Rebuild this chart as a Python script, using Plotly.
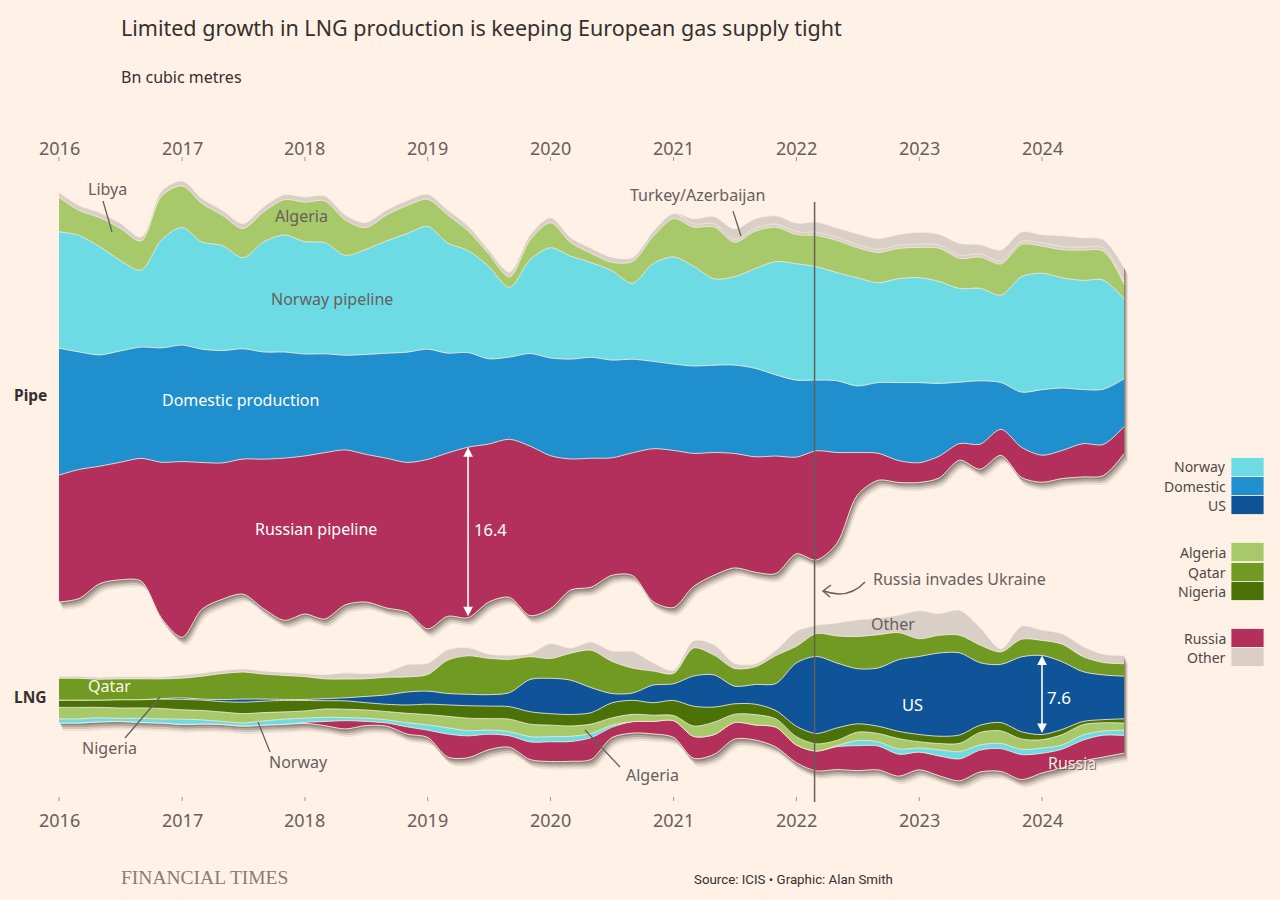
import numpy as np
import pandas as pd
import plotly.graph_objects as go

# ---------------- data (bn cubic metres, every two months) ----------------
dates = pd.date_range("2016-01-01", periods=53, freq="2MS")

pipe_russia = [12.2, 12.4, 11.3, 11.3, 11.8, 15.0, 16.9, 14.1, 13.1, 13.0, 14.4, 15.6, 15.2, 16.0,
               14.9, 14.2, 14.4, 14.4, 16.3, 15.7, 16.4, 15.2, 15.2, 16.3, 14.7, 12.6, 12.4, 11.3,
               11.8, 14.7, 15.1, 12.8, 11.8, 11.0, 11.1, 11.3, 9.3, 10.5, 8.75, 4.1, 2.6, 2.1,
               1.9, 2.1, 1.6, 2.4, 2.5, 2.9, 2.6, 2.7, 3.2, 3.0, 2.6]
pipe_domestic = [12.2, 11.3, 10.7, 10.7, 10.7, 11.0, 11.2, 10.9, 10.8, 10.6, 10.3, 10.2, 9.8, 9.5,
                 9.1, 9.6, 10.1, 10.6, 10.6, 9.6, 9.1, 8.2, 7.9, 8.9, 9.4, 9.6, 9.7, 9.4,
                 9.0, 8.4, 8.3, 8.4, 8.4, 8.5, 8.5, 7.8, 7.4, 6.8, 6.9, 6.4, 6.8, 7.5,
                 7.7, 7.0, 5.9, 6.1, 4.5, 5.3, 6.3, 6.0, 5.2, 5.3, 4.6]
pipe_norway = [11.2, 11.2, 10.4, 8.7, 7.4, 10.4, 11.3, 10.3, 10.1, 8.75, 10.6, 11.25, 10.8, 10.7,
               9.6, 10.1, 10.8, 11.4, 11.8, 10.6, 9.8, 8.9, 6.7, 9.0, 10.6, 9.9, 9.1, 8.6,
               7.3, 9.4, 10.3, 9.6, 8.3, 8.5, 9.6, 10.9, 11.2, 10.9, 10.4, 10.4, 9.6, 10.0,
               10.1, 9.8, 9.0, 8.9, 8.4, 11.1, 11.2, 10.6, 10.5, 10.5, 7.7]
pipe_algeria = [3.3, 2.4, 2.8, 3.1, 2.8, 4.2, 4.0, 3.7, 2.9, 2.8, 2.9, 3.4, 3.8, 4.0,
                3.4, 2.1, 2.5, 2.7, 2.6, 2.7, 1.9, 1.2, 1.0, 1.9, 2.4, 1.3, 0.9, 0.8,
                2.1, 2.6, 3.7, 3.75, 5.0, 3.3, 3.6, 3.3, 2.8, 3.0, 3.1, 2.9, 2.9, 2.9,
                2.9, 3.2, 2.9, 3.0, 3.0, 3.1, 2.6, 2.7, 2.9, 2.8, 1.4]
pipe_libya = [0.5, 0.5, 0.5, 0.5, 0.4, 0.5, 0.5, 0.5, 0.5, 0.5, 0.5, 0.5, 0.5, 0.5,
              0.5, 0.5, 0.5, 0.5, 0.5, 0.5, 0.5, 0.4, 0.5, 0.5, 0.5, 0.5, 0.5, 0.5,
              0.4, 0.5, 0.5, 0.3, 0.3, 0.3, 0.3, 0.3, 0.3, 0.3, 0.3, 0.3, 0.3, 0.3,
              0.3, 0.3, 0.3, 0.3, 0.3, 0.3, 0.3, 0.3, 0.3, 0.3, 0.3]
pipe_turkey_az = [0, 0, 0, 0, 0, 0, 0, 0, 0, 0, 0, 0, 0, 0,
                  0, 0, 0, 0, 0, 0, 0, 0, 0, 0, 0, 0, 0, 0,
                  0, 0, 0, 0.5, 0.7, 1.0, 0.9, 0.8, 0.8, 1.0, 0.9, 1.05, 1.05, 1.05,
                  1.15, 1.05, 1.15, 0.9, 1.05, 0.9, 0.8, 1.05, 0.9, 0.8, 1.3]

lng_russia = [0, 0, 0, 0, 0, 0, 0, 0, 0, 0, 0, 0, 0.1, 0.4,
              0.8, 0.4, 0.3, 0.7, 0.7, 2.2, 2.1, 1.5, 1.1, 1.7, 1.9, 1.9, 2.1, 1.0,
              1.1, 1.2, 1.6, 2.1, 1.9, 1.6, 1.45, 1.9, 1.7, 1.9, 2.2, 2.4, 2.3, 2.1,
              1.7, 1.9, 2.1, 2.1, 2.2, 2.4, 1.9, 1.8, 2.0, 2.1, 1.7]
lng_norway = [0.4, 0.4, 0.4, 0.3, 0.4, 0.4, 0.5, 0.4, 0.3, 0.3, 0.4, 0.5, 0.4, 0.4,
              0.3, 0.3, 0.3, 0.4, 0.5, 0.6, 0.5, 0.4, 0.4, 0.5, 0.5, 0.5, 0.4, 0.2,
              0, 0, 0, 0, 0, 0, 0, 0, 0, 0, 0.1, 0.5, 0.4, 0.5,
              0.4, 0.6, 0.7, 0.5, 0.5, 0.5, 0.5, 0.4, 0.5, 0.4, 0.5]
lng_algeria = [1.1, 1.1, 1.0, 1.0, 1.0, 1.0, 0.9, 0.9, 0.9, 0.9, 0.8, 0.7, 0.7, 0.8,
               0.8, 0.8, 0.8, 0.9, 1.0, 1.1, 1.2, 1.1, 1.2, 1.2, 1.1, 1.0, 0.9, 0.7,
               0.7, 0.6, 0.5, 1.0, 1.2, 0.8, 1.0, 0.8, 0.8, 0.7, 0.5, 0.8, 0.8, 1.0,
               0.6, 0.6, 0.8, 1.2, 1.2, 1.0, 0.8, 1.0, 1.0, 0.8, 0.7]
lng_nigeria = [0.7, 0.7, 0.7, 0.8, 0.8, 0.9, 1.0, 1.0, 1.0, 1.1, 1.1, 1.1, 1.0, 0.8,
               0.8, 0.7, 0.7, 0.8, 1.0, 1.1, 1.2, 1.2, 1.2, 1.2, 1.1, 1.1, 1.1, 1.45,
               1.35, 1.2, 1.45, 1.9, 1.45, 1.0, 1.0, 0.8, 1.0, 1.0, 1.2, 0.8, 0.7, 0.7,
               0.7, 0.7, 0.8, 0.7, 0.8, 0.7, 0.5, 0.5, 0.3, 0.3, 0.4]
lng_us = [0, 0, 0, 0, 0, 0.05, 0.15, 0.1, 0.2, 0.3, 0.2, 0.1, 0.1, 0.2,
          0.3, 0.6, 0.9, 1.25, 1.25, 1.1, 1.1, 1.1, 1.35, 3.1, 3.4, 3.3, 2.4, 0.9,
          0.7, 1.7, 1.6, 2.9, 3.1, 1.7, 1.9, 2.6, 6.1, 7.4, 6.25, 5.3, 5.6, 6.9,
          7.5, 8.0, 7.9, 6.0, 5.6, 7.2, 7.6, 6.5, 4.8, 4.3, 4.1]
lng_qatar = [2.1, 2.1, 2.0, 2.0, 2.0, 1.9, 1.9, 2.2, 2.5, 2.6, 2.4, 2.3, 2.2, 1.9,
             1.8, 1.7, 1.7, 1.45, 1.6, 3.2, 3.7, 3.5, 3.2, 2.2, 1.9, 2.6, 3.6, 3.1,
             2.4, 1.35, 1.0, 2.7, 1.9, 1.7, 1.7, 2.7, 1.6, 2.2, 2.6, 3.1, 3.2, 2.6,
             1.7, 1.7, 1.7, 1.7, 1.2, 1.7, 1.45, 1.7, 1.45, 1.2, 1.2]
lng_other = [0.2, 0.2, 0.2, 0.2, 0.2, 0.2, 0.3, 0.3, 0.3, 0.3, 0.3, 0.3, 0.3, 0.4,
             0.6, 0.5, 0.5, 1.2, 1.1, 1.0, 0.8, 0.4, 0.4, 0.3, 1.45, 0.5, 0.8, 1.0,
             1.6, 0.8, 0.3, 0.7, 1.0, 0.5, 0.3, 0.5, 1.45, 0.8, 1.25, 1.6, 1.6, 1.7,
             2.7, 2.1, 2.4, 1.7, 0.3, 1.25, 1.0, 1.0, 1.0, 0.8, 0.8]

year_labels = ["2016", "2017", "2018", "2019", "2020", "2021", "2022", "2023", "2024"]
legend_groups = [["Norway", "Domestic", "US"], ["Algeria", "Qatar", "Nigeria"], ["Russia", "Other"]]

# ---------------- styling ----------------
BG = "#FFF1E5"
C = {
    "Norway": "#6DDBE4", "Domestic": "#208FCE", "US": "#0F5499",
    "Algeria": "#A8C96A", "Qatar": "#709A22", "Nigeria": "#4A7207",
    "Russia": "#B2305B", "Other": "#DACFC6",
}
EDGE = "rgba(250,238,226,0.9)"
GRAY = "#66605C"
DARK = "#33302E"
FONT = "Noto Sans"
W, H = 1280, 900
PX_PER_BCM = 10.4
X0_PX, DAY_PX = 59, 983 / 2922.0  # 2016-01-01 at px 59; 2024-01-01 at px 1042


def px(x):
    return x / W


def py(y):
    return 1 - y / H


def px_to_date(xp):
    return pd.Timestamp("2016-01-01") + pd.Timedelta(days=(xp - X0_PX) / DAY_PX)


def wiggle(layers):
    """d3.stackOffsetWiggle baseline for layers given bottom -> top."""
    arr = [np.asarray(l, float) for l in layers]
    n, m = len(arr), len(arr[0])
    base = np.zeros(m)
    y = 0.0
    for j in range(1, m):
        s1 = s2 = 0.0
        for i in range(n):
            s3 = (arr[i][j] - arr[i][j - 1]) / 2
            for k in range(i):
                s3 += arr[k][j] - arr[k][j - 1]
            s1 += arr[i][j]
            s2 += s3 * arr[i][j]
        if s1:
            y -= s2 / s1
        base[j] = y
    return base


pipe_layers = [(pipe_russia, C["Russia"]), (pipe_domestic, C["Domestic"]), (pipe_norway, C["Norway"]),
               (pipe_algeria, C["Algeria"]), (pipe_libya, C["Other"]), (pipe_turkey_az, C["Other"])]
lng_layers = [(lng_russia, C["Russia"]), (lng_norway, C["Norway"]), (lng_algeria, C["Algeria"]),
              (lng_nigeria, C["Nigeria"]), (lng_us, C["US"]), (lng_qatar, C["Qatar"]), (lng_other, C["Other"])]

# vertical anchoring of each stream (start of the bottom edge, in screen px)
pipe_base = wiggle([l for l, _ in pipe_layers])
pipe_base = pipe_base - pipe_base[0] + (H - 602) / PX_PER_BCM
lng_base = wiggle([l for l, _ in lng_layers])
lng_base = lng_base - lng_base[0] + (H - 723) / PX_PER_BCM

fig = go.Figure()
SPL = dict(shape="spline", smoothing=0.85)


def add_shadow(base, layers):
    top = base + np.sum([np.asarray(l, float) for l, _ in layers], axis=0)
    for dxp, dyp, a in [(1, 2, 0.3), (2, 4, 0.24), (3, 6, 0.16), (4, 8, 0.09)]:
        xs = dates + pd.Timedelta(days=dxp / DAY_PX)
        fig.add_trace(go.Scatter(x=xs, y=base - dyp / PX_PER_BCM, mode="lines",
                                 line=dict(width=0, **SPL), hoverinfo="skip", showlegend=False))
        fig.add_trace(go.Scatter(x=xs, y=top - dyp / PX_PER_BCM, mode="lines", fill="tonexty",
                                 fillcolor=f"rgba(70,60,50,{a})", line=dict(width=0, **SPL),
                                 hoverinfo="skip", showlegend=False))


def add_stream(base, layers):
    fig.add_trace(go.Scatter(x=dates, y=base, mode="lines", line=dict(color=EDGE, width=1, **SPL),
                             hoverinfo="skip", showlegend=False))
    cum = base.copy()
    for vals, col in layers:
        cum = cum + np.asarray(vals, float)
        fig.add_trace(go.Scatter(x=dates, y=cum.copy(), mode="lines", fill="tonexty", fillcolor=col,
                                 line=dict(color=EDGE, width=0.9, **SPL), hoverinfo="skip",
                                 showlegend=False))


add_shadow(pipe_base, pipe_layers)
add_shadow(lng_base, lng_layers)
add_stream(pipe_base, pipe_layers)
add_stream(lng_base, lng_layers)

annotations = []
shapes = []
LBL = 16


def text(x, y, s, size=LBL, color=GRAY, anchor="center", family=FONT, yanchor="middle"):
    annotations.append(dict(x=px(x), y=py(y), xref="paper", yref="paper", text=s, showarrow=False,
                            xanchor=anchor, yanchor=yanchor, font=dict(size=size, color=color, family=family)))


def pline(x0, y0, x1, y1, color=GRAY, width=1.3):
    shapes.append(dict(type="line", xref="paper", yref="paper", x0=px(x0), y0=py(y0), x1=px(x1), y1=py(y1),
                       line=dict(color=color, width=width)))


# titles
text(119, 27, "Limited growth in LNG production is keeping European gas supply tight", 21.5, DARK, "left")
text(119, 77, "Bn cubic metres", 16, DARK, "left")
text(12, 395, "<b>Pipe</b>", 15.5, DARK, "left")
text(12, 697, "<b>LNG</b>", 15.5, DARK, "left")

# year labels and ticks (top and bottom)
for lab in year_labels:
    d = pd.Timestamp(f"{lab}-01-01")
    for yy in (148, 820):
        annotations.append(dict(x=d, y=py(yy), xref="x", yref="paper", text=lab, showarrow=False,
                                xanchor="center", yanchor="middle", font=dict(size=18, color=GRAY, family=FONT)))
    for y0, y1 in ((157, 161), (797, 801)):
        shapes.append(dict(type="line", xref="x", yref="paper", x0=d, x1=d, y0=py(y0), y1=py(y1),
                           line=dict(color="#A09890", width=1)))

# invasion line
inv = pd.Timestamp("2022-02-24")
shapes.append(dict(type="line", xref="x", yref="paper", x0=inv, x1=inv, y0=py(202), y1=py(802),
                   line=dict(color=GRAY, width=1.5)))

# stream labels
text(107, 189, "Libya")
pline(103, 201, 112, 232)
text(301, 216, "Algeria")
text(332, 299, "Norway pipeline")
text(240, 400, "Domestic production", LBL, "white")
text(316, 529, "Russian pipeline", LBL, "white")
text(697, 195, "Turkey/Azerbaijan")
pline(733, 211, 741, 236)
text(871, 579, "Russia invades Ukraine", LBL, GRAY, "left")
shapes.append(dict(type="path", xref="paper", yref="paper",
                   path=f"M {px(865)},{py(582)} Q {px(848)},{py(600)} {px(824)},{py(591)}",
                   line=dict(color=GRAY, width=1.5)))
shapes.append(dict(type="path", xref="paper", yref="paper",
                   path=f"M {px(831)},{py(585)} L {px(823)},{py(591)} L {px(830)},{py(597)}",
                   line=dict(color=GRAY, width=1.5)))
text(893, 624, "Other")
text(912, 704, "US", 16.5, "white")
text(109, 686, "Qatar", LBL, "#FFF6EC")
text(109, 748, "Nigeria")
pline(125, 738, 160, 697)
text(298, 762, "Norway")
pline(270, 752, 258, 722)
text(652, 775, "Algeria")
pline(620, 767, 585, 730)
text(1073, 764, "Russia", LBL, "rgba(90,60,60,0.75)")
text(1072, 763, "Russia", LBL, "#F8E8E4")

# value arrows tied to the data
i_r = 20
r_bot, r_top = pipe_base[i_r], pipe_base[i_r] + pipe_russia[i_r]
annotations.append(dict(x=dates[i_r], y=r_top, ax=dates[i_r], ay=r_bot, xref="x", yref="y", axref="x", ayref="y",
                        text="", showarrow=True, arrowside="end+start", arrowhead=2, arrowsize=1.2,
                        arrowwidth=1.6, arrowcolor="white"))
text(490, 529, f"{pipe_russia[i_r]:.1f}", 16.5, "white")
i_u = 48
u_bot = lng_base[i_u] + sum(np.asarray(l)[i_u] for l in (lng_russia, lng_norway, lng_algeria, lng_nigeria))
u_top = u_bot + lng_us[i_u]
annotations.append(dict(x=dates[i_u], y=u_top, ax=dates[i_u], ay=u_bot, xref="x", yref="y", axref="x", ayref="y",
                        text="", showarrow=True, arrowside="end+start", arrowhead=2, arrowsize=1.2,
                        arrowwidth=1.6, arrowcolor="white"))
text(1059, 697, f"{lng_us[i_u]:.1f}", 17, "white")

# legend (manual)
leg_y = [[467, 486, 505], [552, 572, 591], [638, 657]]
for grp, ys in zip(legend_groups, leg_y):
    for name, yc in zip(grp, ys):
        shapes.append(dict(type="rect", xref="paper", yref="paper", x0=px(1231), x1=px(1264),
                           y0=py(yc - 9.5), y1=py(yc + 9.5), fillcolor=C[name],
                           line=dict(color="rgba(255,241,229,0.8)", width=1)))
        text(1228, yc, name, 14, "#4D4845", "right")

# footer
text(119, 877, "FINANCIAL TIMES", 19.5, "#857D77", "left", family="Liberation Serif")
text(793, 879, "Source: ICIS • Graphic: Alan Smith", 13.3, DARK, "center", family="Liberation Sans Narrow, Roboto")

fig.update_layout(
    width=W, height=H, margin=dict(l=0, r=0, t=0, b=0),
    paper_bgcolor=BG, plot_bgcolor=BG, showlegend=False,
    xaxis=dict(type="date", range=[px_to_date(0), px_to_date(W)], visible=False, fixedrange=True),
    yaxis=dict(range=[0, H / PX_PER_BCM], visible=False, fixedrange=True),
    annotations=annotations, shapes=shapes,
    font=dict(family=FONT),
)

fig.write_html("out.html", config={"displayModeBar": False},
               post_script="document.body.style.margin='0';")
